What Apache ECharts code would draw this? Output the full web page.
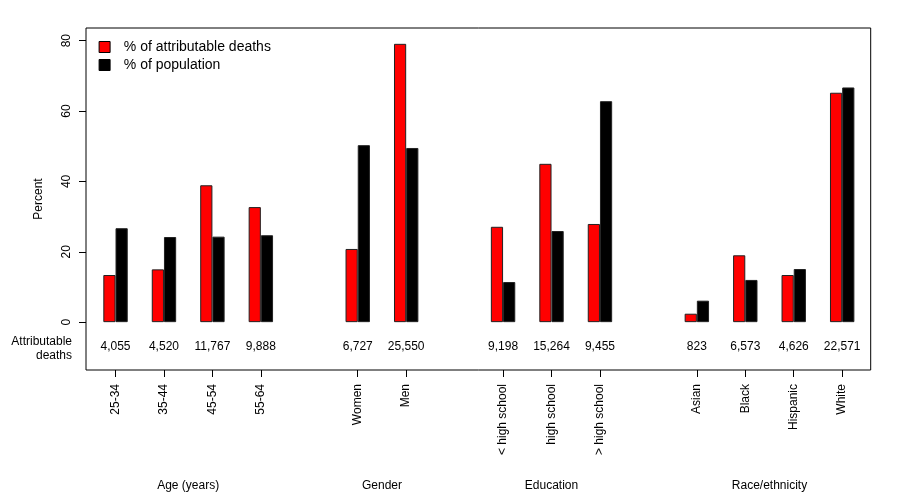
<!DOCTYPE html>
<html>
<head>
<meta charset="utf-8">
<script src="https://cdn.jsdelivr.net/npm/echarts@6/dist/echarts.min.js"></script>
<style>html,body{margin:0;padding:0;background:#fff;}#main{width:900px;height:500px;}</style>
</head>
<body>
<div id="main"></div>
<script>
const categories = ['25-34','35-44','45-54','55-64','','Women','Men','','< high school','high school','> high school','','Asian','Black','Hispanic','White'];
const pctDeaths = [13.4,15.0,38.9,32.7,null,20.8,79.1,null,27.1,45.0,27.9,null,2.4,19.0,13.4,65.2];
const pctPopulation = [26.7,24.2,24.3,24.7,null,50.3,49.5,null,11.4,25.9,62.8,null,6.1,12.0,15.1,66.7];
const deathsLabels = ['4,055','4,520','11,767','9,888','','6,727','25,550','','9,198','15,264','9,455','','823','6,573','4,626','22,571'];
const groupNames = ['Age (years)','Gender','Education','Race/ethnicity'];
const groupRanges = [[0,3],[5,6],[8,10],[12,15]];
const yTicks = [0,20,40,60,80];
const seriesNames = ['% of attributable deaths','% of population'];

const FONT = "'Liberation Sans', Arial, Helvetica, sans-serif";
const YMIN = -13.6, YMAX = 83.6;

const chart = echarts.init(document.getElementById('main'), null, {renderer:'canvas'});
const option = {
  animation: false,
  backgroundColor: '#ffffff',
  textStyle: {fontFamily: FONT, color: '#000'},
  grid: [
    {left: 91.3, right: 33.6, top: 28, bottom: 130},
    {left: 86, right: 29.3, top: 28, bottom: 130, show: true, borderColor: '#000', borderWidth: 1, backgroundColor: 'transparent', z: 0}
  ],
  legend: {
    orient: 'vertical',
    left: 93.6, top: 35,
    itemWidth: 28.4, itemHeight: 11, itemGap: 4,
    icon: 'path://M0,0L10,0L10,10L0,10Z',
    symbolKeepAspect: true,
    textStyle: {fontFamily: FONT, fontSize: 14, color: '#000'},
    itemStyle: {borderColor: '#000', borderWidth: 1},
    data: seriesNames
  },
  xAxis: [
    {
      type: 'category', gridIndex: 0, data: categories, position: 'bottom',
      axisLine: {show: false, onZero: false},
      axisTick: {show: true, alignWithLabel: true, length: 7, lineStyle: {color: '#000'},
        interval: function (idx, val) { return val !== ''; }},
      axisLabel: {rotate: 90, margin: 14, fontSize: 12, color: '#000', fontFamily: FONT, interval: 0},
      splitLine: {show: false}
    },
    {
      type: 'category', gridIndex: 0, data: deathsLabels, position: 'bottom',
      axisLine: {show: false, onZero: false}, axisTick: {show: false},
      axisLabel: {inside: true, margin: 17, fontSize: 12, color: '#000', fontFamily: FONT, interval: 0},
      splitLine: {show: false}
    },
    {type: 'value', gridIndex: 1, min: 0, max: 1, show: false}
  ],
  yAxis: [
    {type: 'value', gridIndex: 0, min: YMIN, max: YMAX, show: false, splitLine: {show: false}},
    {
      type: 'value', gridIndex: 1, min: YMIN, max: YMAX, position: 'left',
      axisLine: {show: false, onZero: false},
      axisTick: {show: true, length: 7, customValues: yTicks, lineStyle: {color: '#000'}},
      axisLabel: {show: true, customValues: yTicks, rotate: 90, margin: 13, fontSize: 12, color: '#000', fontFamily: FONT},
      splitLine: {show: false},
      name: 'Percent', nameLocation: 'middle', nameGap: 41, nameRotate: 90,
      nameTextStyle: {fontSize: 12, color: '#000', fontFamily: FONT}
    }
  ],
  series: [
    {
      name: seriesNames[0], type: 'bar', xAxisIndex: 0, yAxisIndex: 0,
      data: pctDeaths, barWidth: 12.2, barGap: '0%',
      itemStyle: {color: '#ff0000', borderColor: '#222', borderWidth: 1}
    },
    {
      name: seriesNames[1], type: 'bar', xAxisIndex: 0, yAxisIndex: 0,
      data: pctPopulation, barWidth: 12.2, barGap: '0%',
      itemStyle: {color: '#000000', borderColor: '#222', borderWidth: 1}
    }
  ]
};
chart.setOption(option);

// Group labels and left annotation, positioned from the category axis
const graphics = groupNames.map(function (name, i) {
  const a = chart.convertToPixel({xAxisIndex: 0}, groupRanges[i][0]);
  const b = chart.convertToPixel({xAxisIndex: 0}, groupRanges[i][1]);
  return {
    type: 'text', x: (a + b) / 2, y: 486,
    style: {text: name, fill: '#000', font: '12px ' + FONT, align: 'center', verticalAlign: 'middle'}
  };
});
graphics.push({
  type: 'text', x: 72, y: 348.5,
  style: {text: 'Attributable\ndeaths', fill: '#000', font: '12px ' + FONT, align: 'right', verticalAlign: 'middle', lineHeight: 13.6}
});
chart.setOption({graphic: graphics});
</script>
</body>
</html>
